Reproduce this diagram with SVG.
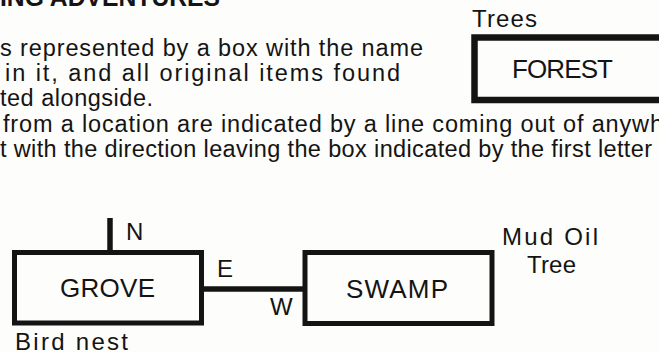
<svg xmlns="http://www.w3.org/2000/svg" width="659" height="352" viewBox="0 0 659 352">
<style>
  text { font-family: "Liberation Sans", Arial, sans-serif; fill: #141414; }
  .body { font-size: 23.5px; }
  .head { font-size: 25px; font-weight: bold; }
  .name { font-size: 26px; }
  .lbl { font-size: 24px; }
  .box { fill: none; stroke: #141414; stroke-width: 5; }
  .boxw { fill: none; stroke: #141414; stroke-width: 6.5; }
  .conn { stroke: #141414; stroke-width: 5.5; fill: none; }
</style>
<rect x="0" y="0" width="659" height="352" fill="#fdfdfb"/>

<g id="heading">
  <text class="head" x="0" y="6" textLength="220" lengthAdjust="spacingAndGlyphs">ING ADVENTURES</text>
</g>

<g id="body-text">
  <text class="body" x="0" y="56" textLength="423" lengthAdjust="spacing">s represented by a box with the name</text>
  <text class="body" x="5" y="81" textLength="395" lengthAdjust="spacing">in it, and all original items found</text>
  <text class="body" x="0" y="106" textLength="153" lengthAdjust="spacing">ted alongside.</text>
  <text class="body" x="3" y="132" textLength="660" lengthAdjust="spacing">from a location are indicated by a line coming out of anywh</text>
  <text class="body" x="0" y="157" textLength="652" lengthAdjust="spacing">t with the direction leaving the box indicated by the first letter</text>
</g>

<g id="node-forest">
  <rect class="boxw" x="474.5" y="37.5" width="200" height="62.5"/>
  <text class="name" x="512" y="78" font-size="25" textLength="101" lengthAdjust="spacing">FOREST</text>
  <text class="lbl" x="472" y="27" textLength="65" lengthAdjust="spacing">Trees</text>
</g>

<g id="node-grove">
  <rect class="box" x="14.5" y="252.5" width="187" height="70.5"/>
  <text class="name" x="60" y="297" textLength="95" lengthAdjust="spacing">GROVE</text>
  <text class="lbl" x="15" y="350" textLength="113" lengthAdjust="spacing">Bird nest</text>
</g>

<g id="node-swamp">
  <rect class="box" x="305" y="252.5" width="187" height="71"/>
  <text class="name" x="346" y="298" textLength="102" lengthAdjust="spacing">SWAMP</text>
  <text class="lbl" x="502" y="245" textLength="96" lengthAdjust="spacing">Mud Oil</text>
  <text class="lbl" x="527" y="273" textLength="49" lengthAdjust="spacing">Tree</text>
</g>

<g id="connectors">
  <line class="conn" x1="110" y1="218" x2="110" y2="252"/>
  <line class="conn" x1="201.5" y1="289" x2="305" y2="289"/>
  <text class="lbl" x="126" y="240">N</text>
  <text class="lbl" x="217" y="277">E</text>
  <text class="lbl" x="270" y="315">W</text>
</g>
</svg>
